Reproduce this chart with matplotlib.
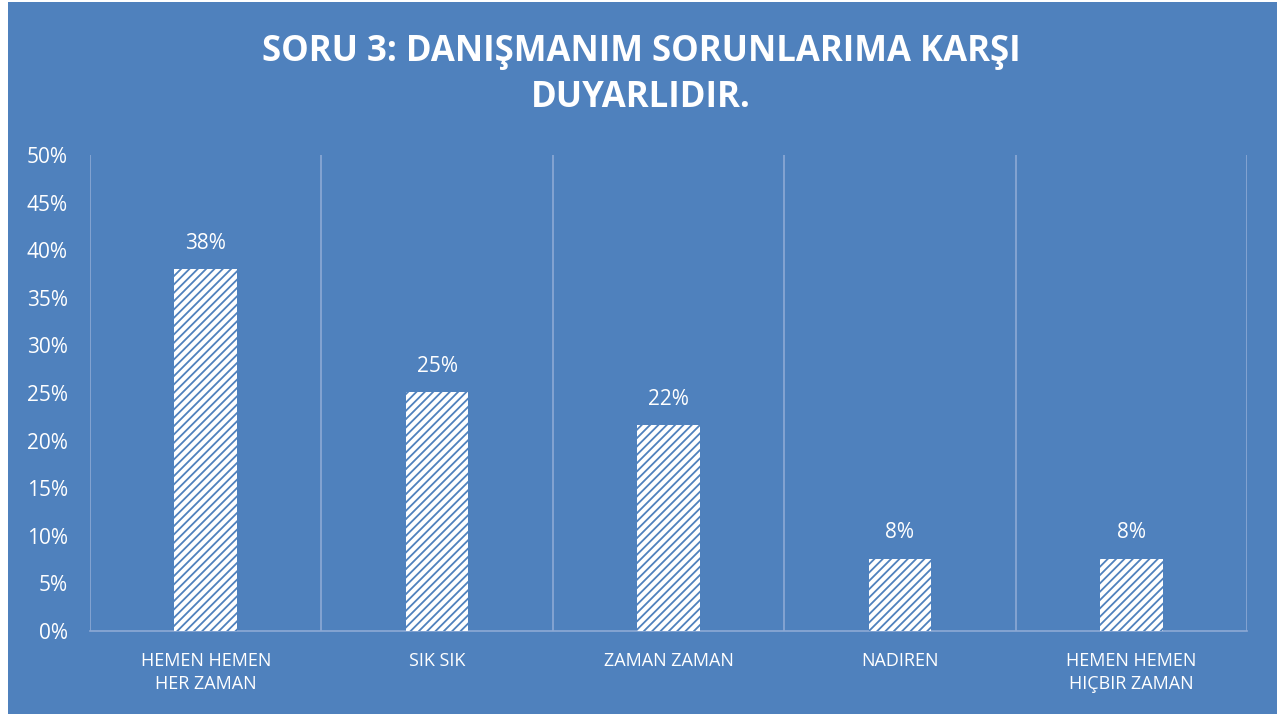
import matplotlib
matplotlib.use('Agg')
import matplotlib.pyplot as plt
from matplotlib.patches import Rectangle
from matplotlib.ticker import PercentFormatter, FixedLocator

# Veriler
kategoriler = ['HEMEN HEMEN\nHER ZAMAN', 'SIK SIK', 'ZAMAN ZAMAN', 'NADIREN', 'HEMEN HEMEN\nHIÇBIR ZAMAN']
oranlar = [0.38, 0.251, 0.216, 0.076, 0.076]
baslik = 'SORU 3: DANIŞMANIM SORUNLARIMA KARŞI\nDUYARLIDIR.'

mavi = '#4F81BD'
cizgi = '#8DA9D4'

plt.rcParams['font.family'] = ['Open Sans', 'DejaVu Sans']
plt.rcParams['hatch.linewidth'] = 1.3

fig = plt.figure(figsize=(12.82, 7.16), dpi=100)
fig.patch.set_facecolor('white')
arka = Rectangle((8 / 1282, 2 / 716), 1269 / 1282, 712 / 716,
                 transform=fig.transFigure, facecolor=mavi,
                 edgecolor='none', zorder=-10)
fig.add_artist(arka)

ax = fig.add_axes([90 / 1282, 1 - 631 / 716, 1157 / 1282, 476 / 716])
ax.set_facecolor(mavi)

x = range(len(kategoriler))
bars = ax.bar(x, oranlar, width=0.27, color='white', edgecolor=mavi,
              hatch='////', linewidth=0, zorder=3)

for b, v in zip(bars, oranlar):
    ax.annotate(f'{v:.0%}', (b.get_x() + b.get_width() / 2, v),
                xytext=(0, 11), textcoords='offset points',
                ha='center', va='bottom', color='white', fontsize=15)

ax.set_xlim(-0.5, len(kategoriler) - 0.5)
ax.set_ylim(0, 0.5)
ax.set_yticks([i * 0.05 for i in range(11)])
ax.yaxis.set_major_formatter(PercentFormatter(1.0, decimals=0))
ax.set_xticks(list(x))
ax.set_xticklabels(kategoriler, fontsize=13, linespacing=1.35)
ax.xaxis.set_minor_locator(FixedLocator([i - 0.5 for i in range(len(kategoriler) + 1)]))
ax.grid(True, axis='x', which='minor', color=cizgi, linewidth=1.2, zorder=1)
ax.grid(False, axis='y')

ax.tick_params(axis='both', which='both', length=0, colors='white')
ax.tick_params(axis='y', labelsize=15, pad=16)
ax.tick_params(axis='x', pad=15)
for s in ['top', 'right', 'left']:
    ax.spines[s].set_visible(False)
ax.spines['bottom'].set_color(cizgi)
ax.spines['bottom'].set_linewidth(1.2)

fig.text(0.5, 1 - 75 / 716, baslik, ha='center', va='center', color='white',
         fontsize=25, fontweight='bold', linespacing=1.4)

fig.savefig('out.png', dpi=100, facecolor='white')
